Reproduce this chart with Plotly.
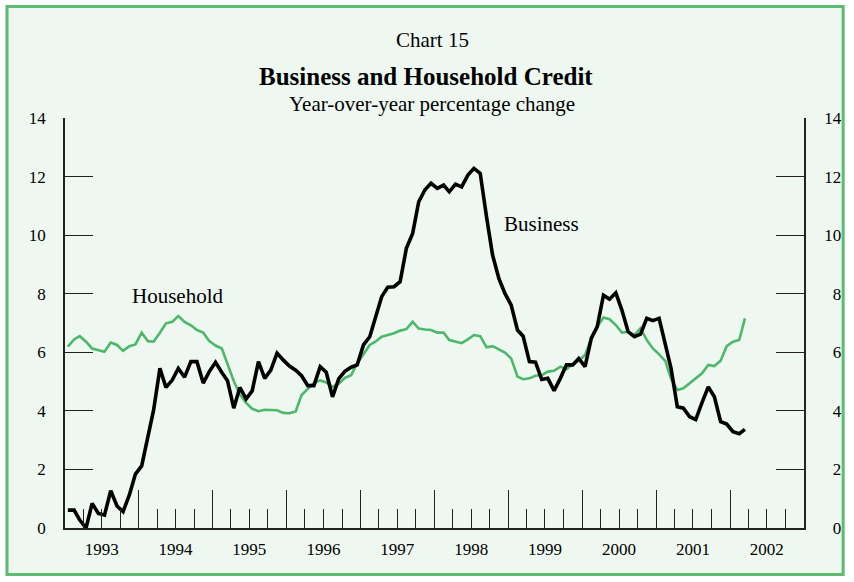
import pandas as pd
import plotly.graph_objects as go

# ---- data (monthly, Jan 1993 - Mar 2002), year-over-year % change ----
start_month = "1993-01-01"
business = [0.61, 0.61, 0.27, 0.00, 0.84, 0.50, 0.44, 1.27, 0.75, 0.56, 1.13, 1.84,
            2.12, 3.12, 4.03, 5.45, 4.80, 5.05, 5.45, 5.15, 5.68, 5.68, 4.95, 5.34,
            5.66, 5.31, 5.03, 4.09, 4.80, 4.41, 4.68, 5.68, 5.11, 5.39, 5.97, 5.74,
            5.53, 5.39, 5.20, 4.86, 4.86, 5.51, 5.32, 4.48, 5.10, 5.35, 5.49, 5.57,
            6.25, 6.53, 7.16, 7.90, 8.22, 8.24, 8.41, 9.55, 10.06, 11.14, 11.55, 11.77,
            11.60, 11.71, 11.48, 11.74, 11.65, 12.05, 12.28, 12.11, 10.63, 9.32, 8.52, 8.01,
            7.61, 6.76, 6.55, 5.68, 5.66, 5.07, 5.11, 4.69, 5.11, 5.57, 5.57, 5.79,
            5.51, 6.48, 6.87, 7.95, 7.81, 8.03, 7.44, 6.70, 6.53, 6.62, 7.16, 7.08,
            7.16, 6.32, 5.45, 4.14, 4.09, 3.80, 3.70, 4.28, 4.82, 4.48, 3.63, 3.55,
            3.29, 3.22, 3.37]
household = [6.19, 6.44, 6.55, 6.36, 6.13, 6.08, 6.02, 6.33, 6.25, 6.05, 6.21, 6.27,
             6.67, 6.38, 6.36, 6.67, 6.99, 7.04, 7.24, 7.04, 6.92, 6.76, 6.67, 6.38,
             6.23, 6.13, 5.60, 5.02, 4.56, 4.27, 4.07, 3.99, 4.04, 4.02, 4.02, 3.93,
             3.92, 3.98, 4.54, 4.75, 4.95, 5.04, 4.97, 4.82, 4.93, 5.13, 5.22, 5.62,
             5.94, 6.25, 6.36, 6.53, 6.59, 6.65, 6.74, 6.79, 7.04, 6.81, 6.78, 6.76,
             6.67, 6.67, 6.42, 6.36, 6.31, 6.44, 6.59, 6.55, 6.17, 6.21, 6.10, 5.99,
             5.79, 5.17, 5.08, 5.11, 5.20, 5.22, 5.34, 5.37, 5.51, 5.42, 5.60, 5.71,
             5.91, 6.48, 6.87, 7.19, 7.13, 6.93, 6.67, 6.70, 6.59, 6.82, 6.42, 6.13,
             5.93, 5.70, 5.10, 4.71, 4.77, 4.94, 5.11, 5.28, 5.57, 5.53, 5.71, 6.21,
             6.36, 6.42, 7.16]
years = list(range(1993, 2003))
y_ticks = [0, 2, 4, 6, 8, 10, 12, 14]

dates = pd.date_range(start_month, periods=len(business), freq="MS") + pd.Timedelta(days=14)

BG = "#EEF8F1"
GREEN_LINE = "#4DB86A"
BORDER = "#5DBB72"
FONT = "Liberation Serif, Times New Roman, serif"
AX = "#222222"
TICK_FONT = 17

fig = go.Figure()
fig.add_trace(go.Scatter(x=dates, y=household, mode="lines",
                         line=dict(color=GREEN_LINE, width=2.6), hoverinfo="skip"))
fig.add_trace(go.Scatter(x=dates, y=business, mode="lines",
                         line=dict(color="black", width=3.6), hoverinfo="skip"))
# invisible trace to carry the secondary axes (year-boundary ticks and right scale)
fig.add_trace(go.Scatter(x=[f"{years[0]}-01-01", f"{years[-1]+1}-01-01"], y=[0, 14],
                         xaxis="x2", yaxis="y2", mode="lines",
                         line=dict(width=0, color="rgba(0,0,0,0)"), hoverinfo="skip"))

xrange = [f"{years[0]}-01-01", f"{years[-1]+1}-01-01"]
mid_year = [f"{y}-07-01" for y in years]
quarters = [f"{y}-{m:02d}-01" for y in years for m in (4, 10)]
year_starts = [f"{y}-01-01" for y in years + [years[-1] + 1]]

fig.update_layout(
    width=854, height=582,
    margin=dict(l=65, r=44, t=118, b=54),
    paper_bgcolor="white", plot_bgcolor="rgba(0,0,0,0)",
    showlegend=False,
    font=dict(family=FONT, color="black", size=16),
    xaxis=dict(type="date", range=xrange, tickvals=mid_year, ticktext=[str(y) for y in years],
               ticks="inside", ticklen=19, tickwidth=1, tickcolor=AX,
               minor=dict(tickvals=quarters, ticks="inside", ticklen=19, tickwidth=1, tickcolor=AX),
               showline=True, linecolor=AX, linewidth=1.5, showgrid=False, zeroline=False,
               tickfont=dict(size=TICK_FONT), ticklabelstandoff=5),
    xaxis2=dict(type="date", range=xrange, overlaying="x", anchor="y", side="bottom",
                tickvals=year_starts, ticks="inside", ticklen=38, tickwidth=1, tickcolor=AX,
                showticklabels=False, showline=False, showgrid=False, zeroline=False),
    yaxis=dict(range=[0, 14], tickvals=y_ticks, ticks="inside", ticklen=28, tickwidth=1.2,
               tickcolor=AX, showline=True, linecolor=AX, linewidth=1.5, showgrid=False,
               zeroline=False, tickfont=dict(size=TICK_FONT), ticklabelstandoff=14),
    yaxis2=dict(range=[0, 14], overlaying="y", side="right", anchor="x", tickvals=y_ticks,
                ticktext=[("\u2007" + str(v)) if v < 10 else str(v) for v in y_ticks],
                ticks="inside", ticklen=28, tickwidth=1.2, tickcolor=AX, showline=True,
                linecolor=AX, linewidth=1.5, showgrid=False, zeroline=False,
                tickfont=dict(size=TICK_FONT), ticklabelstandoff=15),
)

# framed panel background
fig.add_shape(type="rect", xref="paper", yref="paper",
              x0=-0.0785, x1=1.0530, y0=-0.1134, y1=1.272,
              line=dict(color=BORDER, width=3), fillcolor=BG, layer="below")

fig.add_annotation(text="Chart 15", xref="paper", yref="paper", x=0.497, y=1.190,
                   yanchor="middle", xanchor="center",
                   showarrow=False, font=dict(size=21, family=FONT))
fig.add_annotation(text="<b>Business and Household Credit</b>", xref="paper", yref="paper",
                   x=0.489, y=1.102, yanchor="middle", xanchor="center",
                   showarrow=False, font=dict(size=25, family=FONT))
fig.add_annotation(text="Year-over-year percentage change", xref="paper", yref="paper",
                   x=0.497, y=1.034, yanchor="middle", xanchor="center",
                   showarrow=False, font=dict(size=21, family=FONT))
fig.add_annotation(text="Household", x="1994-07-10", y=7.92, showarrow=False,
                   yanchor="middle", xanchor="center", font=dict(size=21, family=FONT))
fig.add_annotation(text="Business", x="1999-06-15", y=10.38, showarrow=False,
                   yanchor="middle", xanchor="center", font=dict(size=21, family=FONT))

fig.write_html("out.html", config={"displayModeBar": False},
               post_script="document.body.style.margin='0';")
